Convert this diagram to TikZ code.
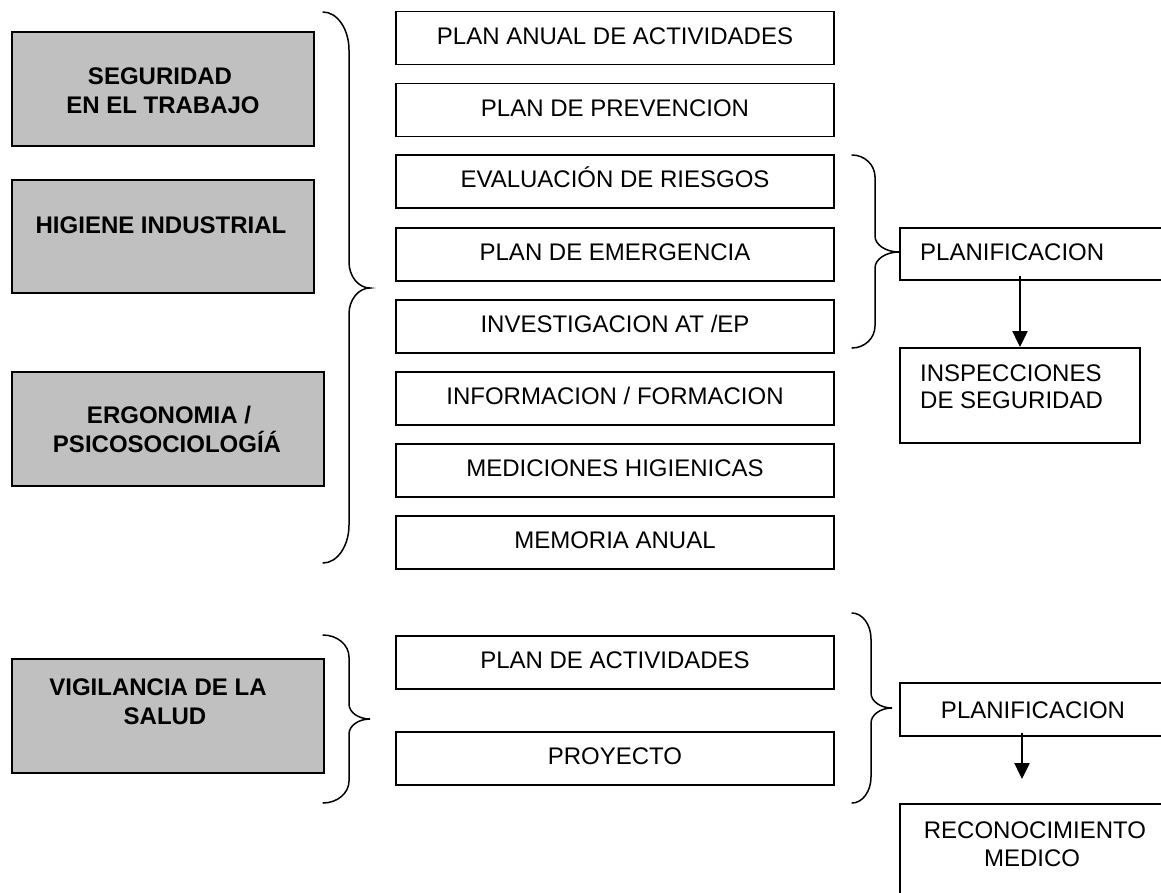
\documentclass[tikz,border=0pt]{standalone}
\usepackage{fontspec}
\setmainfont{Liberation Sans}
\usetikzlibrary{arrows.meta}
\definecolor{boxgray}{HTML}{C0C0C0}
\newcommand{\curlyb}[8]{% x0 xv xt ytop ytip ybot ce ct
  \draw[bracestyle] (#1,#4) .. controls ({#1+0.55*(#2-#1)},#4) and (#2,{#4+0.45*#7}) .. (#2,{#4+#7})
    -- (#2,{#5-#8}) .. controls (#2,{#5-0.45*#8}) and ({#2+0.45*(#3-#2)},#5) .. (#3,#5)
    .. controls ({#2+0.45*(#3-#2)},#5) and (#2,{#5+0.45*#8}) .. (#2,{#5+#8})
    -- (#2,{#6-#7}) .. controls (#2,{#6-0.45*#7}) and ({#1+0.55*(#2-#1)},#6) .. (#1,#6);}
\begin{document}
\begin{tikzpicture}[x=1pt,y=-1pt,
  graybox/.style={draw, line width=2pt, fill=boxgray, inner sep=0pt},
  whitebox/.style={draw, line width=1.9pt, fill=white, inner sep=0pt,
     font=\fontsize{24}{27}\selectfont, text height=17.2pt, text depth=5pt},
  boldtxt/.style={inner sep=0pt, font=\fontsize{24}{27}\selectfont\bfseries, anchor=base},
  regtxt/.style={inner sep=0pt, font=\fontsize{24}{27}\selectfont, anchor=base},
  bracestyle/.style={line width=1.5pt, line cap=round},
  arr/.style={line width=2.2pt, -{Triangle[width=15pt,length=16pt]}}]
\useasboundingbox (0,0) rectangle (1161,892);
\fill[white] (0,0) rectangle (1161,892);

% gray boxes
\node[graybox, minimum width=302pt, minimum height=114pt] (seg) at (163,89) {};
\node[graybox, minimum width=302pt, minimum height=113pt] (hig) at (163,236.5) {};
\node[graybox, minimum width=312pt, minimum height=114pt] (erg) at (168,429) {};
\node[graybox, minimum width=312pt, minimum height=114pt] (vig) at (168,716) {};
\node[boldtxt] (segA) at (160,84.6) {SEGURIDAD};
\node[boldtxt] (segB) at (163,113) {EN EL TRABAJO};
\node[boldtxt] (higA) at (161,233.6) {HIGIENE INDUSTRIAL};
\node[boldtxt] (ergA) at (169,423.6) {ERGONOMIA /};
\node[boldtxt] (ergB) at (167,452.6) {PSICOSOCIOLOGÍÁ};
\node[boldtxt] (vigA) at (158,695.6) {VIGILANCIA DE LA};
\node[boldtxt] (vigB) at (165,724.6) {SALUD};

% middle boxes
\node[whitebox, minimum width=438pt, minimum height=53pt] (m1) at (615,38) {PLAN ANUAL DE ACTIVIDADES};
\node[whitebox, minimum width=438pt, minimum height=53pt] (m2) at (615,110) {PLAN DE PREVENCION};
\node[whitebox, minimum width=438pt, minimum height=53pt] (m3) at (615,181.5) {EVALUACIÓN DE RIESGOS};
\node[whitebox, minimum width=438pt, minimum height=53pt] (m4) at (615,254.5) {PLAN DE EMERGENCIA};
\node[whitebox, minimum width=438pt, minimum height=53pt] (m5) at (615,326.5) {INVESTIGACION AT /EP};
\node[whitebox, minimum width=438pt, minimum height=53pt] (m6) at (615,398.5) {INFORMACION / FORMACION};
\node[whitebox, minimum width=438pt, minimum height=53pt] (m7) at (615,470.5) {MEDICIONES HIGIENICAS};
\node[whitebox, minimum width=438pt, minimum height=53pt] (m8) at (615,542.5) {MEMORIA ANUAL};
\node[whitebox, minimum width=438pt, minimum height=53pt] (b1) at (615,662.5) {PLAN DE ACTIVIDADES};
\node[whitebox, minimum width=438pt, minimum height=53pt] (b2) at (615,758.5) {PROYECTO};

% right boxes
\node[whitebox, minimum width=266pt, minimum height=52pt] (plan1) at (1033,254) {};
\node[regtxt, anchor=base west] (plan1t) at (920,260.6) {PLANIFICACION};
\node[whitebox, minimum width=240pt, minimum height=95pt] (insp) at (1020,395.5) {};
\node[regtxt, anchor=base west] (inspA) at (920,381) {INSPECCIONES};
\node[regtxt, anchor=base west] (inspB) at (920,408.6) {DE SEGURIDAD};
\node[whitebox, minimum width=266pt, minimum height=53pt, text depth=0pt] (plan2) at (1033,709.5) {PLANIFICACION};
\node[whitebox, minimum width=266pt, minimum height=108pt] (reco) at (1033,858) {};
\node[regtxt] (recoA) at (1035,838.6) {RECONOCIMIENTO};
\node[regtxt] (recoB) at (1032,866.6) {MEDICO};

% braces
\curlyb{323}{349}{370}{12}{288}{563}{38}{26}
\curlyb{852}{875}{899}{155}{252}{348}{22}{16}
\curlyb{323}{349}{370}{635}{719}{803}{22}{15}
\curlyb{852}{871}{892}{613}{708}{803}{26}{15}

% arrows
\draw[arr] ([yshift=5pt]insp.north |- plan1.south) -- (insp.north);
\coordinate (a2end) at ([xshift=-11pt,yshift=24pt]reco.north);
\draw[arr] ([xshift=-11pt,yshift=4pt]plan2.south) -- (a2end);
\end{tikzpicture}
\end{document}
